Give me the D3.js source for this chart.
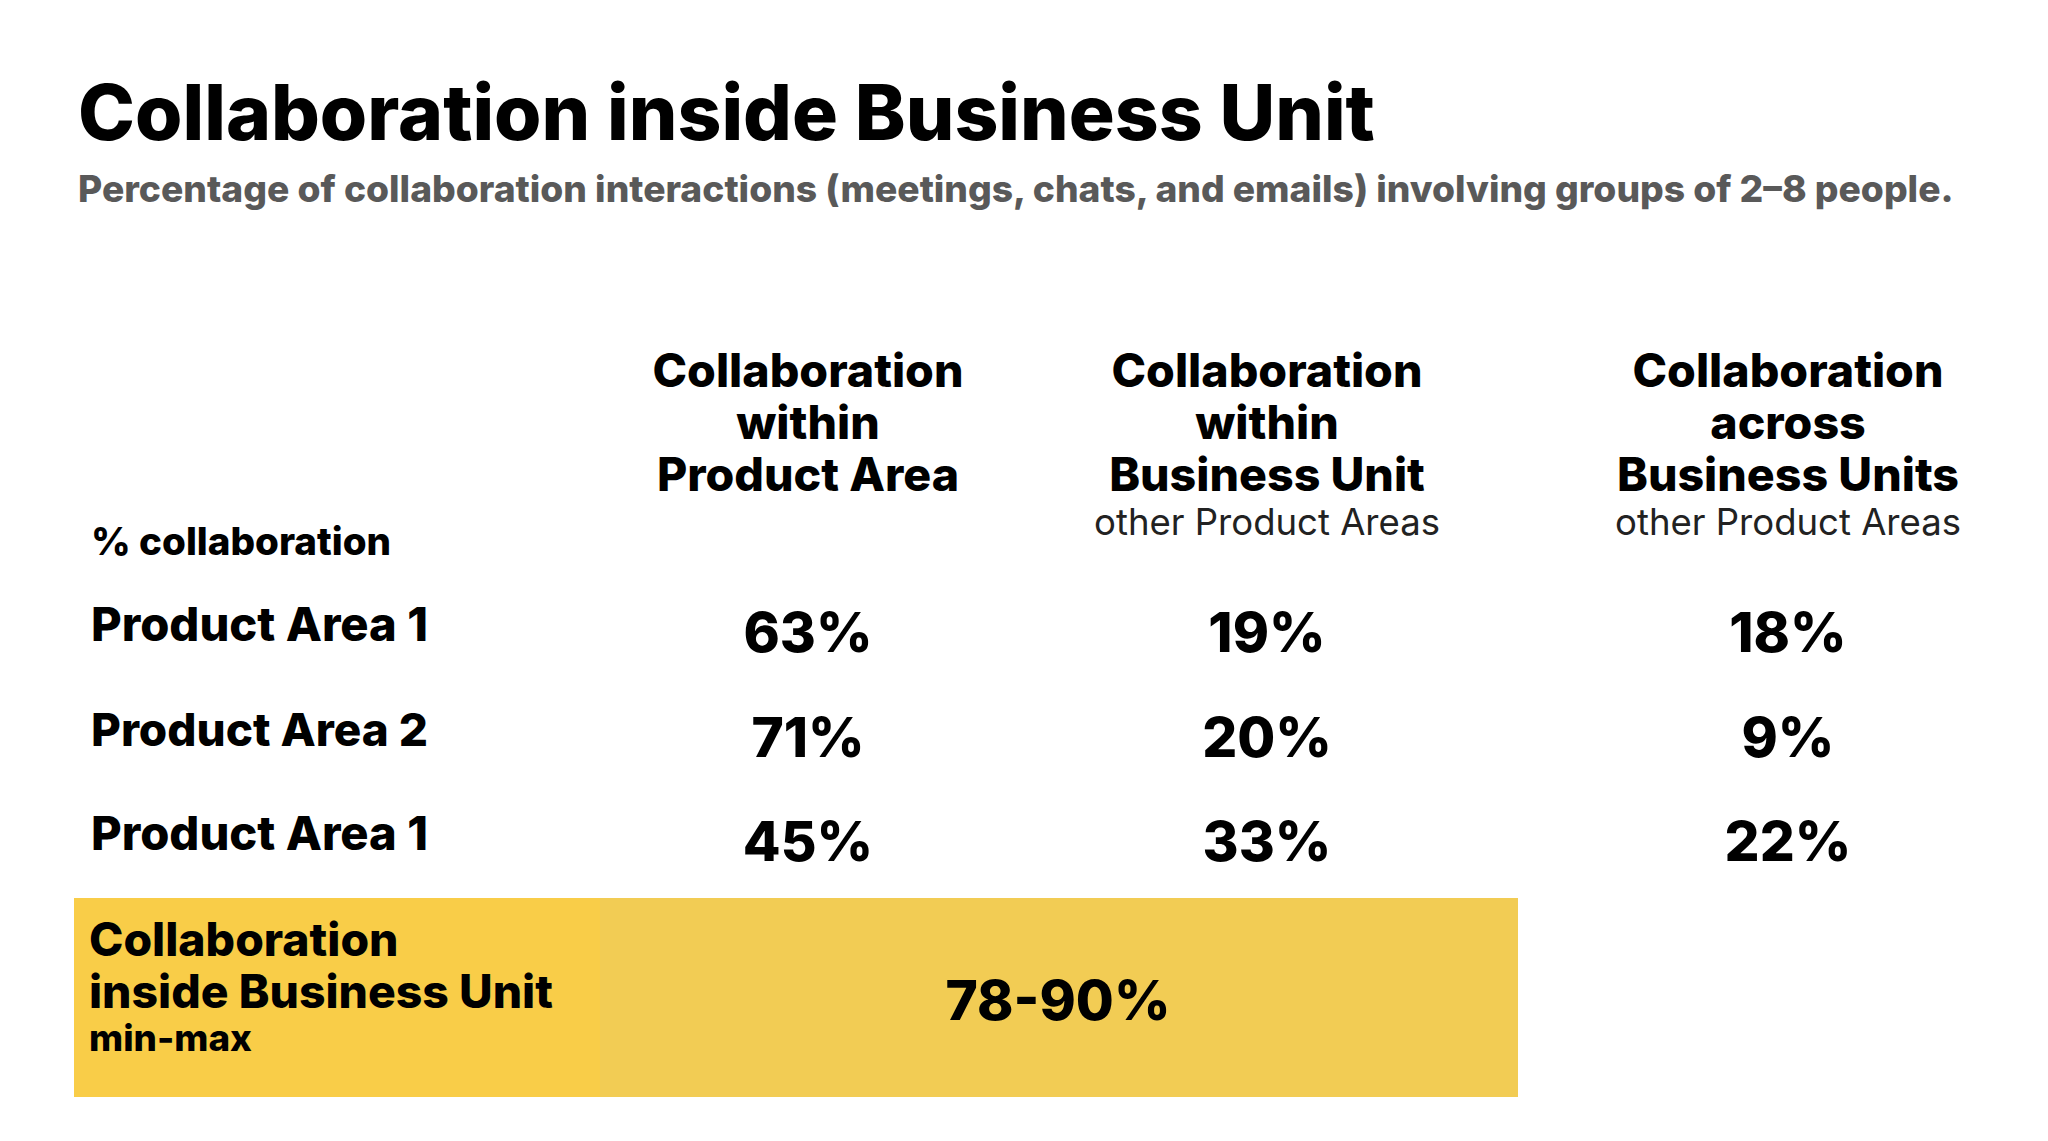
<!DOCTYPE html>
<html>
<head>
<meta charset="utf-8">
<script src="https://cdn.jsdelivr.net/npm/d3@7"></script>
<style>
  html, body { margin: 0; padding: 0; background: #fff; }
  svg { display: block; font-family: Inter, "Noto Sans", sans-serif; }
</style>
</head>
<body>
<svg id="chart" width="2048" height="1141"></svg>
<script>
// chart text + values
const title = 'Collaboration inside Business Unit';
const subtitle = 'Percentage of collaboration interactions (meetings, chats, and emails) involving groups of 2\u20138 people.';
const cornerLabel = '% collaboration';
const columnHeaders = [
  ['Collaboration', 'within', 'Product Area'],
  ['Collaboration', 'within', 'Business Unit'],
  ['Collaboration', 'across', 'Business Units']
];
const columnNotes = ['', 'other Product Areas', 'other Product Areas'];
const rowLabels = ['Product Area 1', 'Product Area 2', 'Product Area 1'];
const withinProductArea = [63, 71, 45];
const withinBusinessUnit = [19, 20, 33];
const acrossBusinessUnits = [18, 9, 22];
const summaryLabel = ['Collaboration', 'inside Business Unit'];
const summaryNote = 'min-max';
const summaryRange = [78, 90];

const columns = [withinProductArea, withinBusinessUnit, acrossBusinessUnits];

const svg = d3.select('#chart');

// font size that makes a node hit the width seen in the reference
function fitSize(node, target) {
  const w = node.getComputedTextLength();
  const fs = parseFloat(node.getAttribute('font-size'));
  return +(fs * target / w).toFixed(2);
}
function fit(sel, target) {
  sel.each(function () {
    this.setAttribute('font-size', fitSize(this, target));
  });
  return sel;
}

const x = d3.scaleOrdinal().domain([0, 1, 2]).range([808, 1267, 1788]);
const y = d3.scalePoint().domain(d3.range(rowLabels.length)).range([641, 850]);

// title block
svg.append('text')
  .attr('x', 78).attr('y', 140)
  .attr('font-size', 72).attr('font-weight', 800)
  .attr('fill', '#000')
  .text(title)
  .call(fit, 1297);

svg.append('text')
  .attr('x', 78).attr('y', 202)
  .attr('font-size', 32).attr('font-weight', 800)
  .attr('fill', '#595959')
  .text(subtitle)
  .call(fit, 1876);

// summary box first so text sits above it
const box = svg.append('g');
box.append('rect')
  .attr('x', 74).attr('y', 898)
  .attr('width', 600 - 74).attr('height', 1097 - 898)
  .attr('fill', '#F9CD48');
box.append('rect')
  .attr('x', 600).attr('y', 898)
  .attr('width', 1518 - 600).attr('height', 1097 - 898)
  .attr('fill', '#F2CC54');

// column headers
let headSize = null;
columnHeaders.forEach((lines, i) => {
  const t = svg.append('g')
    .selectAll('text')
    .data(lines)
    .join('text')
    .attr('x', x(i))
    .attr('y', (d, j) => 387 + j * 52)
    .attr('text-anchor', 'middle')
    .attr('font-size', 42).attr('font-weight', 800)
    .text(d => d);
  if (headSize === null) headSize = fitSize(t.node(), 311);
  t.attr('font-size', headSize);
  if (columnNotes[i]) {
    svg.append('text')
      .attr('x', x(i)).attr('y', 535)
      .attr('text-anchor', 'middle')
      .attr('font-size', 32).attr('font-weight', 400)
      .attr('fill', '#222')
      .text(columnNotes[i])
      .call(fit, 346);
  }
});

svg.append('text')
  .attr('x', 91).attr('y', 555)
  .attr('font-size', 36).attr('font-weight', 800)
  .text(cornerLabel)
  .call(fit, 300);

// rows
svg.append('g')
  .selectAll('text')
  .data(rowLabels)
  .join('text')
  .attr('x', 91)
  .attr('y', (d, i) => y(i))
  .attr('font-size', 44).attr('font-weight', 800)
  .text(d => d)
  .call(fit, 337);

columns.forEach((vals, c) => {
  svg.append('g')
    .selectAll('text')
    .data(vals)
    .join('text')
    .attr('x', x(c))
    .attr('y', (d, i) => y(i) + 11)
    .attr('text-anchor', 'middle')
    .attr('font-size', 55).attr('font-weight', 800)
    .text(d => d + '%');
});

// summary text
const lbl = box.selectAll('text.lbl')
  .data(summaryLabel)
  .join('text')
  .attr('class', 'lbl')
  .attr('x', 89)
  .attr('y', (d, i) => 956 + i * 52)
  .attr('font-size', 44).attr('font-weight', 800)
  .text(d => d);
lbl.attr('font-size', fitSize(lbl.nodes()[1], 464));

box.append('text')
  .attr('x', 89).attr('y', 1051)
  .attr('font-size', 34).attr('font-weight', 800)
  .text(summaryNote)
  .call(fit, 163);
box.append('text')
  .attr('x', 1058).attr('y', 1020)
  .attr('text-anchor', 'middle')
  .attr('font-size', 55).attr('font-weight', 800)
  .text(summaryRange.join('-') + '%');
</script>
</body>
</html>
